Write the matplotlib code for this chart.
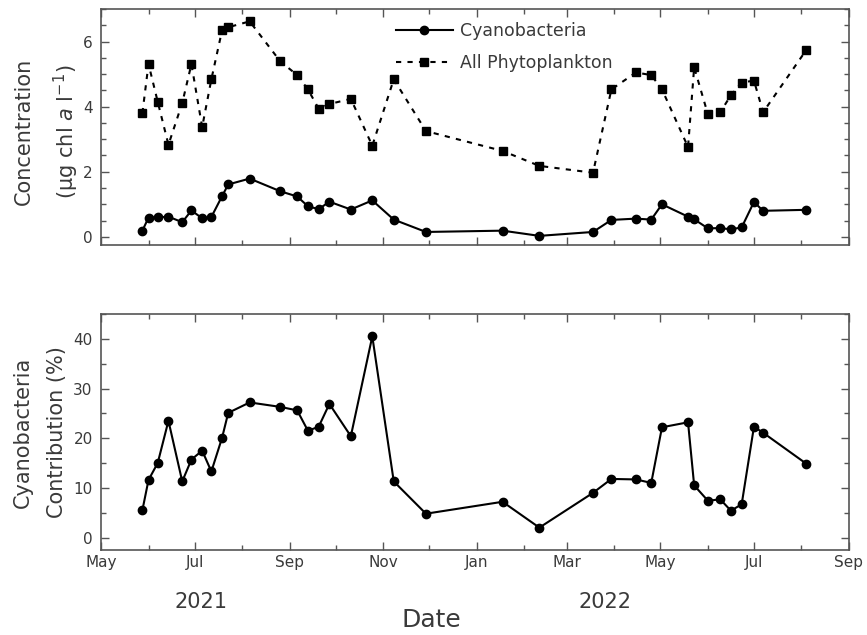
import matplotlib
matplotlib.use("Agg")
import matplotlib.pyplot as plt
import matplotlib.dates as mdates
import numpy as np
import pandas as pd

plt.rcParams['font.family'] = ['DejaVu Sans']

# sampling dates
dates = pd.to_datetime([
    "2021-05-28", "2021-06-01", "2021-06-07", "2021-06-14", "2021-06-23", "2021-06-29",
    "2021-07-06", "2021-07-12", "2021-07-19", "2021-07-23", "2021-08-06", "2021-08-26",
    "2021-09-06", "2021-09-13", "2021-09-20", "2021-09-27", "2021-10-11", "2021-10-25",
    "2021-11-08", "2021-11-29", "2022-01-18", "2022-02-11", "2022-03-18", "2022-03-30",
    "2022-04-15", "2022-04-25", "2022-05-02", "2022-05-19", "2022-05-23", "2022-06-01",
    "2022-06-09", "2022-06-16", "2022-06-23", "2022-07-01", "2022-07-07", "2022-08-04",
])

# chl a, ug/l
cyano = [0.19, 0.59, 0.60, 0.62, 0.45, 0.81, 0.57, 0.61, 1.25, 1.61, 1.79, 1.40,
         1.24, 0.94, 0.85, 1.08, 0.84, 1.12, 0.53, 0.15, 0.19, 0.03, 0.15, 0.52,
         0.56, 0.53, 1.00, 0.62, 0.54, 0.26, 0.27, 0.23, 0.29, 1.07, 0.80, 0.83]
phyto = [3.80, 5.31, 4.15, 2.83, 4.11, 5.31, 3.37, 4.84, 6.35, 6.44, 6.62, 5.39,
         4.97, 4.53, 3.94, 4.08, 4.24, 2.80, 4.84, 3.25, 2.64, 2.18, 1.97, 4.53,
         5.05, 4.97, 4.53, 2.76, 5.21, 3.76, 3.83, 4.35, 4.74, 4.80, 3.83, 5.73]

# cyano share of total, %
pct = [5.5, 11.6, 15.0, 23.5, 11.3, 15.7, 17.5, 13.3, 20.1, 25.1, 27.2, 26.3,
       25.6, 21.5, 22.3, 26.9, 20.4, 40.5, 11.3, 4.8, 7.2, 2.0, 9.0, 11.8,
       11.7, 11.0, 22.2, 23.2, 10.5, 7.4, 7.7, 5.4, 6.7, 22.3, 21.1, 14.9]

txt = "#3a3a3a"
tick_col = "#555555"

fig = plt.figure(figsize=(8.67, 6.35), dpi=100)
ax1 = fig.add_axes([0.1165, 0.6142, 0.8627, 0.3716])
ax2 = fig.add_axes([0.1165, 0.1339, 0.8627, 0.3716])

ax1.plot(dates, cyano, "-", color="black", lw=1.5, marker="o", ms=6, label="Cyanobacteria")
ax1.plot(dates, phyto, color="black", lw=1.5, ls=(0, (2.5, 3)), marker="s", ms=6,
         label="All Phytoplankton")
ax2.plot(dates, pct, "-", color="black", lw=1.5, marker="o", ms=6)

ax1.set_ylim(-0.25, 7)
ax1.set_yticks([0, 2, 4, 6])
ax1.yaxis.set_minor_locator(matplotlib.ticker.MultipleLocator(0.5))
ax2.set_ylim(-2.5, 45)
ax2.set_yticks([0, 10, 20, 30, 40])
ax2.yaxis.set_minor_locator(matplotlib.ticker.MultipleLocator(5))

for ax in (ax1, ax2):
    ax.set_xlim(pd.Timestamp("2021-05-01"), pd.Timestamp("2022-09-01"))
    ax.xaxis.set_major_locator(mdates.MonthLocator(bymonth=[1, 3, 5, 7, 9, 11]))
    ax.xaxis.set_minor_locator(mdates.MonthLocator(bymonth=[2, 4, 6, 8, 10, 12]))
    ax.xaxis.set_major_formatter(mdates.DateFormatter("%b"))
    ax.tick_params(which="both", direction="in", top=True, right=True,
                   color=tick_col, labelcolor=txt, labelsize=11)
    ax.tick_params(which="major", length=6, width=1)
    ax.tick_params(which="minor", length=3.5, width=1)
    ax.tick_params(axis="y", pad=6)
    for s in ax.spines.values():
        s.set_color(tick_col)
        s.set_linewidth(1.2)

ax1.tick_params(axis="x", labelbottom=False)

ax1.set_ylabel("Concentration\n(µg chl $\\mathit{a}$ l$^{-1}$)", fontsize=15, color=txt,
               linespacing=1.8)
ax2.set_ylabel("Cyanobacteria\nContribution (%)", fontsize=15, color=txt,
               linespacing=1.85)
ax1.yaxis.set_label_coords(-0.027, 0.48)
ax2.yaxis.set_label_coords(-0.046, 0.5)

leg = ax1.legend(loc="upper left", bbox_to_anchor=(0.373, 1.01), frameon=False,
                 fontsize=12.5, labelspacing=0.8, handlelength=3.3, handletextpad=0.4)
for t in leg.get_texts():
    t.set_color(txt)

fig.text(201 / 867, 1 - 602 / 635, "2021", fontsize=15, color=txt, ha="center", va="center")
fig.text(605 / 867, 1 - 602 / 635, "2022", fontsize=15, color=txt, ha="center", va="center")
fig.text(431 / 867, 1 - 620 / 635, "Date", fontsize=18, color=txt, ha="center", va="center")

fig.savefig("out.png", dpi=100)
